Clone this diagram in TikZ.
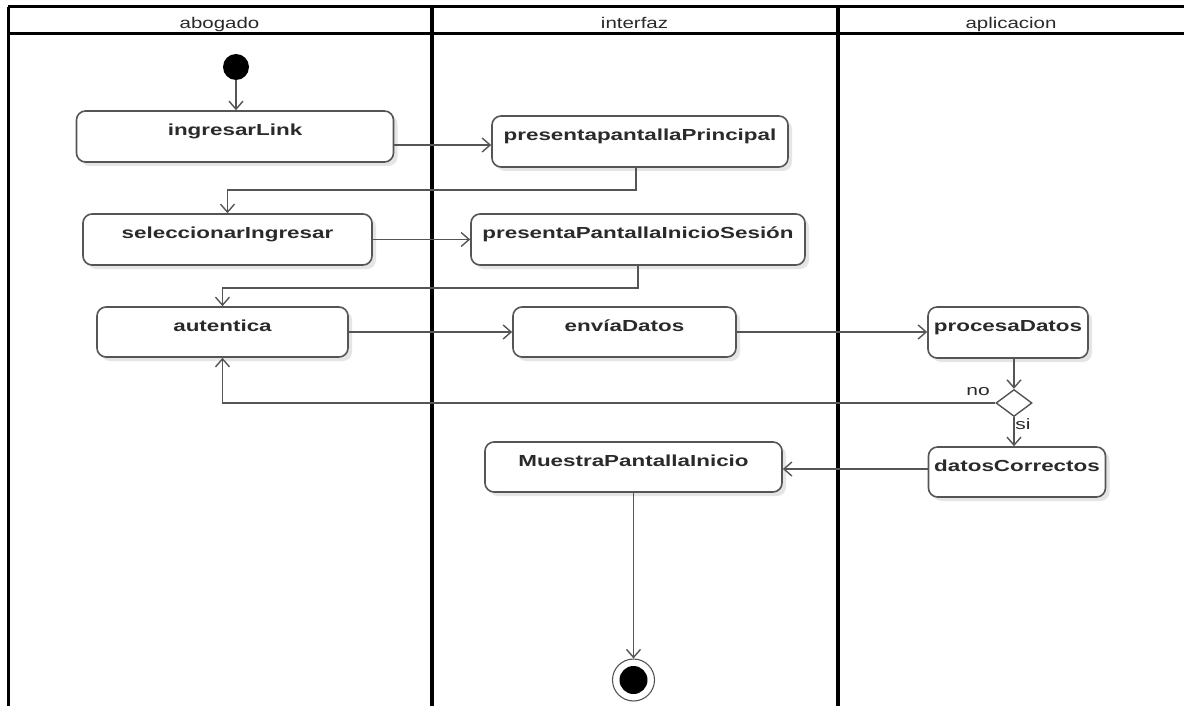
\documentclass[tikz,border=0pt]{standalone}
\usepackage{fontspec}
\setmainfont{Liberation Sans}
\newfontfamily\nodefont[FakeStretch=1.4]{Liberation Sans}
\newfontfamily\hdrfont[FakeStretch=1.32]{Liberation Sans}
\usetikzlibrary{arrows.meta,shapes.geometric,shadows}
\definecolor{linegray}{HTML}{555555}
\definecolor{txtgray}{HTML}{2A2A2A}
\begin{document}
\begin{tikzpicture}[x=1pt,y=-1pt,
  act/.style={draw=linegray, line width=1.6pt, rounded corners=9pt, fill=white,
    drop shadow={shadow xshift=4pt,shadow yshift=-4pt,fill=black!20},
    font=\nodefont\fontsize{16}{18}\selectfont\bfseries, text=txtgray,
    inner sep=0pt, text height=12pt, text depth=14pt},
  flow/.style={draw=linegray, line width=1.6pt, -{Straight Barb[length=8pt,width=14pt,line width=1.4pt]}},
  hdr/.style={font=\hdrfont\fontsize{15.5}{17}\selectfont, text=txtgray, inner sep=0pt, anchor=base},
  guard/.style={font=\nodefont\fontsize{15}{17}\selectfont, text=txtgray, inner sep=0pt},
  lane/.style={draw=black, line width=3pt},
  divider/.style={draw=black, line width=4pt}
]
\useasboundingbox (0,0) rectangle (1184,706);
\fill[white] (0,0) rectangle (1184,706);

% swimlanes
\draw[lane] (8,7) -- (1184,7);
\draw[lane] (8,7) -- (8,706);
\draw[lane] (8,34) -- (1184,34);
\draw[divider] (432,7) -- (432,706);
\draw[divider] (838,7) -- (838,706);
\node[hdr] (habogado) at (219.5,29) {abogado};
\node[hdr] (hinterfaz) at (634.5,29) {interfaz};
\node[hdr] (haplicacion) at (1011,29) {aplicacion};

% nodes
\fill[black] (236,67) circle (13pt);
\coordinate (init) at (236,80);

\node[act, minimum width=317pt, minimum height=51pt] (il) at (235,136.5) {ingresarLink};
\node[act, minimum width=296pt, minimum height=51pt] (pp) at (640,141.5) {presentapantallaPrincipal};
\node[act, minimum width=289pt, minimum height=51pt] (sel) at (227.5,239.5) {seleccionarIngresar};
\node[act, minimum width=334pt, minimum height=51pt] (pis) at (638,239.5) {presentaPantallaInicioSesión};
\node[act, minimum width=251pt, minimum height=50pt] (aut) at (222.5,332) {autentica};
\node[act, minimum width=223pt, minimum height=50pt] (env) at (624.5,332) {envíaDatos};
\node[act, minimum width=160pt, minimum height=51pt] (proc) at (1008,332.5) {procesaDatos};
\node[diamond, draw=linegray, line width=1.4pt, fill=white, inner sep=0pt,
      minimum width=36pt, minimum height=27pt] (dec) at (1014,403) {};
\node[act, minimum width=177pt, minimum height=50pt] (dat) at (1017,472) {datosCorrectos};
\node[act, minimum width=297pt, minimum height=50pt] (mue) at (633.5,467) {MuestraPantallaInicio};

\node[circle, draw=linegray, line width=1.1pt, fill=white, minimum size=42pt, inner sep=0pt] (fin) at (633.5,680) {};
\fill[black] (fin.center) circle (14pt);

\node[guard] (lno) at (978,392) {no};
\node[guard] (lsi) at (1023,424) {si};

% connectors
\draw[flow] (init) -- (init |- il.north);
\draw[flow] (il.east |- 0,145) -- (pp.west |- 0,145);
\draw[flow] ([xshift=-4pt]pp.south) -- ++(0,22) -| (sel.north);
\draw[flow] (sel.east) -- (pis.west);
\draw[flow] (pis.south) -- ++(0,22) -| (aut.north);
\draw[flow] (aut.east) -- (env.west);
\draw[flow] (env.east) -- (proc.west |- env.east);
\draw[flow] (proc.south -| dec.north) -- (dec.north);
\draw[flow] (dec.west) -| (aut.south);
\draw[flow] (dec.south) -- (dec.south |- dat.north);
\draw[flow] (dat.west |- 0,469) -- (mue.east |- 0,469);
\draw[flow] (mue.south) -- (fin.north);
\end{tikzpicture}
\end{document}
